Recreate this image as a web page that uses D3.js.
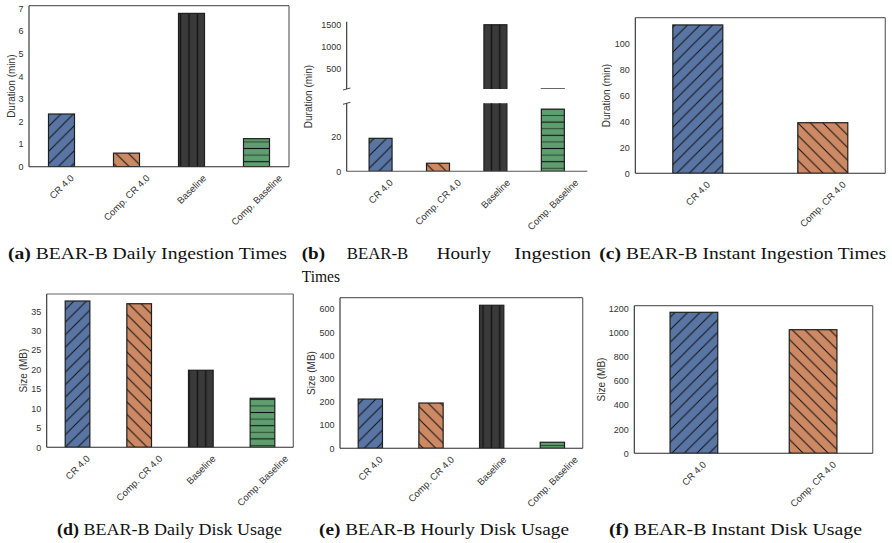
<!DOCTYPE html>
<html>
<head>
<meta charset="utf-8">
<script src="https://cdn.jsdelivr.net/npm/d3@7"></script>
<style>
	body { margin: 0; background: #fff; }
	svg { display: block; }
</style>
</head>
<body>
<div id="chart"></div>
<script>
const categories = ['CR 4.0', 'Comp. CR 4.0', 'Baseline', 'Comp. Baseline']
const instantCategories = ['CR 4.0', 'Comp. CR 4.0']

// values
const dailyIngestion = [2.33, 0.6, 6.78, 1.24]
const hourlyIngestion = [19.2, 4.7, 1490, 36.2]
const instantIngestion = [114.7, 39.1]
const dailyDisk = [37.6, 36.9, 19.8, 12.6]
const hourlyDisk = [212, 195, 616, 26]
const instantDisk = [1167, 1023]

const dailyIngestionTicks = [0, 1, 2, 3, 4, 5, 6, 7]
const hourlyTicksTop = [500, 1000, 1500]
const hourlyTicksBottom = [0, 20]
const instantIngestionTicks = [0, 20, 40, 60, 80, 100]
const dailyDiskTicks = [0, 5, 10, 15, 20, 25, 30, 35]
const hourlyDiskTicks = [0, 100, 200, 300, 400, 500, 600]
const instantDiskTicks = [0, 200, 400, 600, 800, 1000, 1200]

const fills = ['#5975a4', '#cc8963', '#3a3a3a', '#5f9e6e']
const sans = "'Liberation Sans', Arial, sans-serif"
const serif = "'Liberation Serif', 'Times New Roman', serif"
const ink = '#333'

const svg = d3.select('#chart').append('svg').attr('width', 892).attr('height', 543)
const defs = svg.append('defs')

// hatches, anchored to the page like matplotlib does
function makeHatches() {
	const s = 12.5
	const p0 = defs.append('pattern').attr('id', 'hatch-0').attr('patternUnits', 'userSpaceOnUse')
		.attr('width', s).attr('height', s)
	p0.append('path').attr('d', `M0,${s} L${s},0 M-3,3 L3,-3 M${s - 3},${s + 3} L${s + 3},${s - 3}`)
		.attr('stroke', '#111').attr('stroke-width', 1)

	const p1 = defs.append('pattern').attr('id', 'hatch-1').attr('patternUnits', 'userSpaceOnUse')
		.attr('width', s).attr('height', s)
	p1.append('path').attr('d', `M0,0 L${s},${s} M-3,${s - 3} L3,${s + 3} M${s - 3},-3 L${s + 3},3`)
		.attr('stroke', '#111').attr('stroke-width', 1)

	const p2 = defs.append('pattern').attr('id', 'hatch-2').attr('patternUnits', 'userSpaceOnUse')
		.attr('width', 8.4).attr('height', 10)
	p2.append('line').attr('x1', 4.2).attr('x2', 4.2).attr('y1', 0).attr('y2', 10)
		.attr('stroke', '#141414').attr('stroke-width', 1.4)

	const p3 = defs.append('pattern').attr('id', 'hatch-3').attr('patternUnits', 'userSpaceOnUse')
		.attr('width', 10).attr('height', 13.2)
	p3.append('line').attr('x1', 0).attr('x2', 10).attr('y1', 3.3).attr('y2', 3.3)
		.attr('stroke', '#111').attr('stroke-width', 1.1)
	p3.append('line').attr('x1', 0).attr('x2', 10).attr('y1', 9.9).attr('y2', 9.9)
		.attr('stroke', '#2c4d35').attr('stroke-width', 1.1)
}
makeHatches()

let clipCount = 0
function drawBars(values, x, y, box) {
	const id = 'clip-' + clipCount++
	defs.append('clipPath').attr('id', id).append('rect')
		.attr('x', box.x0).attr('y', box.y0).attr('width', box.x1 - box.x0).attr('height', box.y1 - box.y0)
	const g = svg.append('g').attr('clip-path', `url(#${id})`)
	const bar = g.selectAll('g').data(values).enter().append('g')
	const bx = (d, i) => x(i - 0.2)
	const bw = (d, i) => x(i + 0.2) - x(i - 0.2)
	const by = (d) => y(d)
	const bh = (d) => y(0) - y(d)
	bar.append('rect').attr('x', bx).attr('y', by).attr('width', bw).attr('height', bh)
		.attr('fill', (d, i) => fills[i])
	bar.append('rect').attr('x', bx).attr('y', by).attr('width', bw).attr('height', bh)
		.attr('fill', (d, i) => `url(#hatch-${i})`)
	bar.append('rect').attr('x', bx).attr('y', by).attr('width', bw).attr('height', bh)
		.attr('fill', 'none').attr('stroke', '#1e1e1e').attr('stroke-width', 1.2)
}

function yAxis(y, ticks, x0) {
	const ax = svg.append('g').attr('transform', `translate(${x0},0)`)
		.call(d3.axisLeft(y).tickValues(ticks).tickFormat(d3.format('d')).tickSize(0).tickPadding(5.5))
	ax.select('.domain').remove()
	ax.attr('font-size', 9).attr('font-family', sans)
	ax.selectAll('text').attr('fill', ink)
}

function yLabel(text, cx, cy) {
	svg.append('text').attr('transform', `translate(${cx},${cy}) rotate(-90)`)
		.attr('text-anchor', 'middle').attr('dominant-baseline', 'central')
		.attr('font-size', 10).attr('font-family', sans).attr('fill', ink).text(text)
}

function xLabels(cats, x, axisY) {
	cats.forEach((c, i) => {
		const t = svg.append('text').attr('font-size', 9.5).attr('font-family', sans).attr('fill', ink)
			.attr('text-anchor', 'middle').attr('dominant-baseline', 'central').text(c)
		const len = t.node().getComputedTextLength()
		const half = ((len + 8.5) * Math.SQRT1_2) / 2
		t.attr('transform', `translate(${x(i)},${axisY + 6.5 + half}) rotate(-45)`)
	})
}

function frame(b) {
	svg.append('line').attr('x1', b.x0).attr('x2', b.x1).attr('y1', b.y0).attr('y2', b.y0)
		.attr('stroke', '#666').attr('stroke-width', 1.2)
	svg.append('line').attr('x1', b.x1).attr('x2', b.x1).attr('y1', b.y0).attr('y2', b.y1)
		.attr('stroke', '#666').attr('stroke-width', 1.2)
	svg.append('line').attr('x1', b.x0).attr('x2', b.x0).attr('y1', b.y0).attr('y2', b.y1)
		.attr('stroke', '#2a2a2a').attr('stroke-width', 1.1)
	svg.append('line').attr('x1', b.x0).attr('x2', b.x1).attr('y1', b.y1).attr('y2', b.y1)
		.attr('stroke', '#2a2a2a').attr('stroke-width', 1.1)
}

const panels = [
	{ values: dailyIngestion, cats: categories, ticks: dailyIngestionTicks, yMax: 7.12, label: 'Duration (min)',
		x0: 29, x1: 289, y0: 5.7, y1: 166.7, labelOff: 18 },
	{ values: instantIngestion, cats: instantCategories, ticks: instantIngestionTicks, yMax: 120.3, label: 'Duration (min)',
		x0: 635.3, x1: 885.3, y0: 17.7, y1: 173.3, labelOff: 28.6 },
	{ values: dailyDisk, cats: categories, ticks: dailyDiskTicks, yMax: 39.4, label: 'Size (MB)',
		x0: 46.7, x1: 293.3, y0: 294, y1: 447.3, labelOff: 23.4 },
	{ values: hourlyDisk, cats: categories, ticks: hourlyDiskTicks, yMax: 648.6, label: 'Size (MB)',
		x0: 340, x1: 582.7, y0: 297.7, y1: 448.3, labelOff: 28.3 },
	{ values: instantDisk, cats: instantCategories, ticks: instantDiskTicks, yMax: 1221.6, label: 'Size (MB)',
		x0: 634.3, x1: 872.7, y0: 305.7, y1: 453.3, labelOff: 33.3 },
]

panels.forEach((p) => {
	const n = p.cats.length
	const x = d3.scaleLinear().domain([-0.5, n - 0.5]).range([p.x0, p.x1])
	const y = d3.scaleLinear().domain([0, p.yMax]).range([p.y1, p.y0])
	drawBars(p.values, x, y, p)
	frame(p)
	yAxis(y, p.ticks, p.x0)
	yLabel(p.label, p.x0 - p.labelOff, (p.y0 + p.y1) / 2)
	xLabels(p.cats, x, p.y1)
})

// (b) hourly ingestion, broken y axis
;(() => {
	const x0 = 346.7
	const x1 = 587.3
	const top = { x0: x0, x1: x1, y0: 21.7, y1: 89 }
	const bottom = { x0: x0, x1: x1, y0: 103.3, y1: 171.3 }
	const x = d3.scaleLinear().domain([-0.59, 3.6]).range([x0, x1])
	const yTop = d3.scaleLinear().domain([35, 1559]).range([top.y1, top.y0])
	const yBottom = d3.scaleLinear().domain([0, 39.6]).range([bottom.y1, bottom.y0])

	drawBars(hourlyIngestion, x, yTop, top)
	drawBars(hourlyIngestion, x, yBottom, bottom)

	;[top, bottom].forEach((b) => {
		svg.append('line').attr('x1', x0).attr('x2', x0).attr('y1', b.y0).attr('y2', b.y1)
			.attr('stroke', '#2a2a2a').attr('stroke-width', 1.1)
	})
	svg.append('line').attr('x1', x0).attr('x2', x1).attr('y1', bottom.y1).attr('y2', bottom.y1)
		.attr('stroke', '#555').attr('stroke-width', 1.1)
	;[top.y1, bottom.y0].forEach((yy) => {
		svg.append('line').attr('x1', x0 - 3.7).attr('x2', x0 + 3.7).attr('y1', yy + 1).attr('y2', yy - 1)
			.attr('stroke', '#333').attr('stroke-width', 0.9)
	})

	yAxis(yTop, hourlyTicksTop, x0)
	yAxis(yBottom, hourlyTicksBottom, x0)
	yLabel('Duration (min)', 308.3, (top.y0 + bottom.y1) / 2)
	xLabels(categories, x, bottom.y1)
})()

// sub-figure captions
const captions = [
	{ tag: '(a)', text: ' BEAR-B Daily Ingestion Times', x: 8, y: 259, w: 279 },
	{ tag: '(c)', text: ' BEAR-B Instant Ingestion Times', x: 599.3, y: 259, w: 286.7 },
	{ tag: '(d)', text: ' BEAR-B Daily Disk Usage', x: 57, y: 535, w: 225 },
	{ tag: '(e)', text: ' BEAR-B Hourly Disk Usage', x: 319, y: 535, w: 250 },
	{ tag: '(f)', text: ' BEAR-B Instant Disk Usage', x: 609, y: 535, w: 253 },
]
captions.forEach((c) => {
	const t = svg.append('text').attr('x', c.x).attr('y', c.y)
		.attr('font-family', serif).attr('font-size', 17).attr('fill', '#111')
		.attr('textLength', c.w).attr('lengthAdjust', 'spacingAndGlyphs')
	t.append('tspan').attr('font-weight', 'bold').text(c.tag)
	t.append('tspan').text(c.text)
})

// (b) caption is justified over two lines
const bWords = [
	{ s: '(b)', x: 301.7, y: 259, w: 23.3, bold: true },
	{ s: 'BEAR-B', x: 346.7, y: 259, w: 61.6 },
	{ s: 'Hourly', x: 436.7, y: 259, w: 54.3 },
	{ s: 'Ingestion', x: 514.3, y: 259, w: 76.7 },
	{ s: 'Times', x: 301.7, y: 281.5, w: 38.3 },
]
bWords.forEach((w) => {
	svg.append('text').attr('x', w.x).attr('y', w.y)
		.attr('font-family', serif).attr('font-size', 17).attr('fill', '#111')
		.attr('textLength', w.w).attr('lengthAdjust', 'spacingAndGlyphs')
		.attr('font-weight', w.bold ? 'bold' : null).text(w.s)
})
</script>
</body>
</html>
